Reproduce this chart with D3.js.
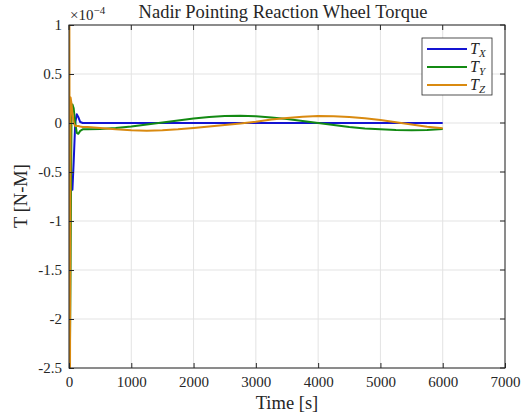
<!DOCTYPE html>
<html lang="en">
<head>
    <meta charset="UTF-8">
    <title>Nadir Pointing Reaction Wheel Torque</title>
    <script src="https://cdnjs.cloudflare.com/ajax/libs/d3/7.9.0/d3.min.js"></script>
    <style>
        body { margin: 0; background: #fff; }
        text { font-family: "Liberation Serif", "DejaVu Serif", serif; fill: #262626; }
    </style>
</head>
<body>
    <svg width="531" height="417"></svg>

    <script>
        // time samples [s], shared by the three torque series
        let time = [0, 5, 15, 25, 40, 55, 75, 100, 125, 150, 180, 220, 260, 300, 500, 750,
            1000, 1250, 1500, 1750, 2000, 2250, 2500, 2750, 3000, 3250, 3500, 3750,
            4000, 4250, 4500, 4750, 5000, 5250, 5500, 5750, 6000];

        // torques in units of 1e-4 N-m
        let torqueX = [0, -0.1, -0.3, -0.45, -0.62, -0.68, -0.4, 0.0, 0.09, 0.06, 0.01, 0, 0, 0, 0, 0,
            0, 0, 0, 0, 0, 0, 0, 0, 0, 0, 0, 0,
            0, 0, 0, 0, 0, 0, 0, 0, 0];
        let torqueY = [0, -1.0, -2.32, -1.5, 0.1, 0.19, 0.15, 0.0, -0.1, -0.11, -0.08, -0.065, -0.065, -0.065, -0.06, -0.05,
            -0.035, -0.015, 0.005, 0.025, 0.045, 0.062, 0.072, 0.073, 0.068, 0.055, 0.04, 0.02,
            0.0, -0.02, -0.04, -0.055, -0.065, -0.072, -0.075, -0.072, -0.06];
        let torqueZ = [1.6, 1.6, -3.0, 0.26, 0.2, 0.1, 0.0, -0.03, -0.03, -0.03, -0.035, -0.04, -0.04, -0.042, -0.05, -0.065,
            -0.075, -0.078, -0.075, -0.065, -0.05, -0.035, -0.02, -0.005, 0.012, 0.035, 0.05, 0.065,
            0.071, 0.07, 0.062, 0.048, 0.03, 0.008, -0.015, -0.038, -0.054];

        let xTicks = [0, 1000, 2000, 3000, 4000, 5000, 6000, 7000];
        let yTicks = [-2.5, -2, -1.5, -1, -0.5, 0, 0.5, 1];
        let seriesNames = ["X", "Y", "Z"];
        let seriesColors = ["#1414d2", "#138a13", "#d98a10"];

        let svg = d3.select("svg");
        let plotLeft = 69, plotRight = 505, plotTop = 25, plotBottom = 368;

        let xScale = d3.scaleLinear().domain([0, 7000]).range([plotLeft, plotRight]);
        let yScale = d3.scaleLinear().domain([-2.5, 1]).range([plotBottom, plotTop]);

        // grid lines
        svg.append("g").selectAll("line").data(xTicks).join("line")
            .attr("x1", d => xScale(d)).attr("x2", d => xScale(d))
            .attr("y1", plotTop).attr("y2", plotBottom)
            .attr("stroke", "#e3e3e3").attr("stroke-width", 1);
        svg.append("g").selectAll("line").data(yTicks).join("line")
            .attr("x1", plotLeft).attr("x2", plotRight)
            .attr("y1", d => yScale(d)).attr("y2", d => yScale(d))
            .attr("stroke", "#e3e3e3").attr("stroke-width", 1);

        // clip so the spikes stay inside the axes
        svg.append("clipPath").attr("id", "plotClip")
            .append("rect").attr("x", plotLeft).attr("y", plotTop)
            .attr("width", plotRight - plotLeft).attr("height", plotBottom - plotTop);

        let series = [torqueX, torqueY, torqueZ];
        let line = d3.line()
            .x((d, i) => xScale(time[i]))
            .y(d => yScale(d));

        series.forEach((values, k) => {
            svg.append("path")
                .datum(values)
                .attr("d", line)
                .attr("fill", "none")
                .attr("stroke", seriesColors[k])
                .attr("stroke-width", 2)
                .attr("stroke-linejoin", "round")
                .attr("clip-path", "url(#plotClip)");
        });

        // axes box with inward ticks
        let axisColor = "#262626";
        svg.append("rect")
            .attr("x", plotLeft).attr("y", plotTop)
            .attr("width", plotRight - plotLeft).attr("height", plotBottom - plotTop)
            .attr("fill", "none").attr("stroke", axisColor).attr("stroke-width", 1);

        let xAxis = d3.axisBottom(xScale).tickValues(xTicks).tickSizeInner(-5).tickSizeOuter(0)
            .tickFormat(d3.format("d")).tickPadding(8);
        let yAxis = d3.axisLeft(yScale).tickValues(yTicks).tickSizeInner(-5).tickSizeOuter(0)
            .tickFormat(d => String(d)).tickPadding(7);

        let gx = svg.append("g").attr("transform", `translate(0,${plotBottom})`).call(xAxis);
        let gy = svg.append("g").attr("transform", `translate(${plotLeft},0)`).call(yAxis);
        [gx, gy].forEach(g => {
            g.select(".domain").remove();
            g.selectAll("line").attr("stroke", axisColor);
            g.selectAll("text").attr("font-family", "Liberation Serif, serif")
                .attr("font-size", 15).attr("fill", axisColor);
        });

        // ticks on top and right edges
        svg.append("g").selectAll("line").data(xTicks).join("line")
            .attr("x1", d => xScale(d)).attr("x2", d => xScale(d))
            .attr("y1", plotTop).attr("y2", plotTop + 5).attr("stroke", axisColor);
        svg.append("g").selectAll("line").data(yTicks).join("line")
            .attr("x1", plotRight).attr("x2", plotRight - 5)
            .attr("y1", d => yScale(d)).attr("y2", d => yScale(d)).attr("stroke", axisColor);

        // exponent label
        let expo = svg.append("text").attr("x", 70).attr("y", 20).attr("font-size", 15);
        expo.append("tspan").text("\u00d710");
        expo.append("tspan").attr("dy", -6).attr("font-size", 11).text("\u22124");

        // title and axis labels
        svg.append("text")
            .attr("x", 283).attr("y", 18)
            .attr("text-anchor", "middle").attr("font-size", 18.5)
            .text("Nadir Pointing Reaction Wheel Torque");
        svg.append("text")
            .attr("x", 287).attr("y", 409)
            .attr("text-anchor", "middle").attr("font-size", 18.5)
            .text("Time [s]");
        svg.append("text")
            .attr("transform", "translate(27,196) rotate(-90)")
            .attr("text-anchor", "middle").attr("font-size", 18.5)
            .text("T [N-M]");

        // legend
        let legend = svg.append("g");
        legend.append("rect")
            .attr("x", 422).attr("y", 38).attr("width", 70).attr("height", 57)
            .attr("fill", "#fff").attr("stroke", "#262626").attr("stroke-width", 0.8);
        seriesNames.forEach((name, k) => {
            let y = 49 + k * 18;
            legend.append("line")
                .attr("x1", 427).attr("x2", 467).attr("y1", y).attr("y2", y)
                .attr("stroke", seriesColors[k]).attr("stroke-width", 2);
            let t = legend.append("text").attr("x", 470).attr("y", y + 5)
                .attr("font-size", 16).attr("font-style", "italic");
            t.append("tspan").text("T");
            t.append("tspan").attr("dy", 3).attr("font-size", 11).text(name);
        });
    </script>
</body>
</html>
